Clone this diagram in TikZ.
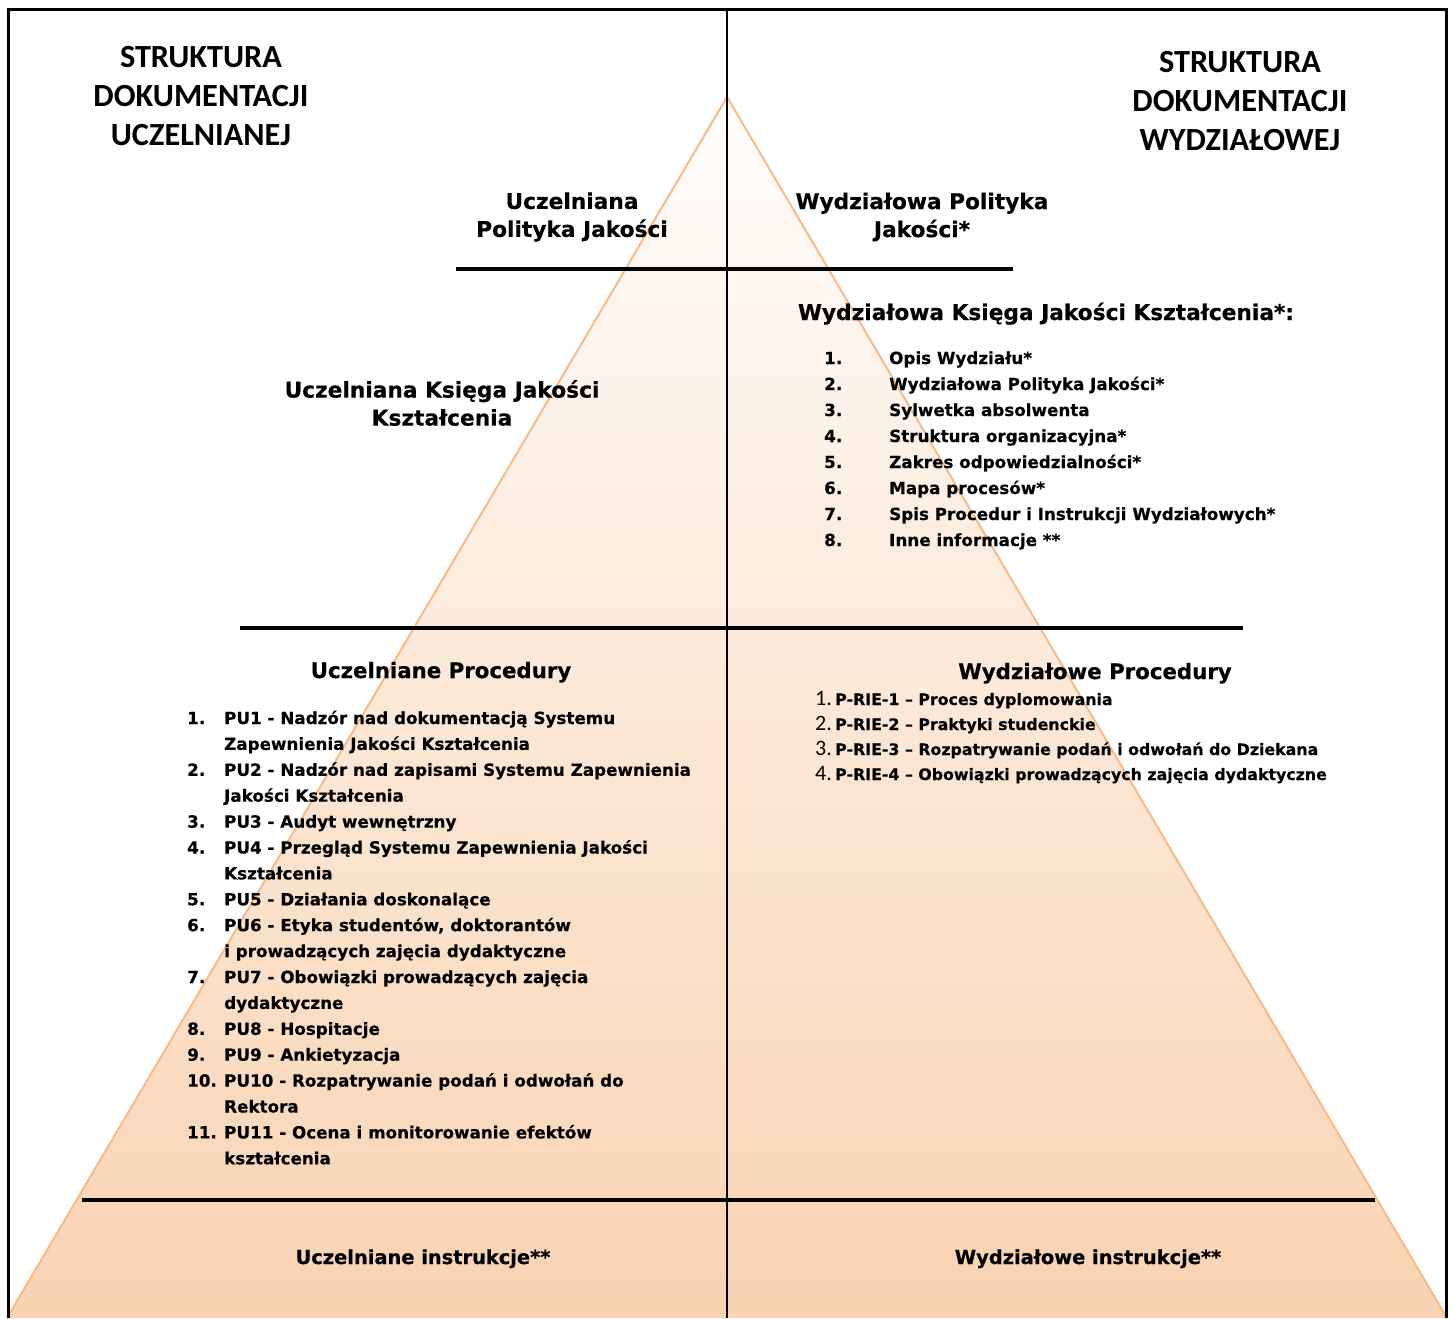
\documentclass[tikz,border=0pt]{standalone}
\usepackage{fontspec}
\setmainfont{DejaVu Sans}[BoldFeatures={FakeBold=0.4}]
\newfontfamily\hfont{Carlito}
\definecolor{peach}{RGB}{249,211,178}
\definecolor{peachtop}{RGB}{255,253,251}
\definecolor{edgeor}{RGB}{248,186,134}
\tikzset{
  head/.style={font=\hfont\bfseries\fontsize{32.3}{39}\selectfont, align=center, inner sep=0pt},
  title/.style={font=\bfseries\fontsize{21.7}{28}\selectfont, align=center, inner sep=0pt},
  item/.style={font=\bfseries\fontsize{16.75}{20}\selectfont, anchor=base west, inner sep=0pt},
  ritem/.style={font=\bfseries\fontsize{15.8}{20}\selectfont, anchor=base west, inner sep=0pt},
  rnum/.style={font=\hfont\fontsize{22}{24}\selectfont, anchor=base west, inner sep=0pt},
  sep/.style={line width=4pt, black},
}
\begin{document}
\begin{tikzpicture}[x=1pt,y=-1pt]
\useasboundingbox (0,0) rectangle (1454,1318);
% pyramid
\coordinate (apex) at (727,97);
\coordinate (bl) at (7,1318);
\coordinate (br) at (1447,1318);
\shade[top color=peachtop, bottom color=peach] (apex) -- (br) -- (bl) -- cycle;
\draw[edgeor, line width=2pt] (bl) -- (apex) -- (br);
% separators
\coordinate (s1a) at (456,269); \coordinate (s1b) at (1013,269);
\coordinate (s2a) at (240,628); \coordinate (s2b) at (1243,628);
\coordinate (s3a) at (82,1200); \coordinate (s3b) at (1375,1200);
\draw[sep] (s1a) -- (s1b);
\draw[sep] (s2a) -- (s2b);
\draw[sep] (s3a) -- (s3b);
% centre line and frame
\coordinate (ctop) at (727,9); \coordinate (cbot) at (727,1318);
\draw[line width=2pt] (ctop) -- (cbot);
\coordinate (fl) at (8,1318); \coordinate (ftl) at (8,9); \coordinate (ftr) at (1446,9); \coordinate (fr) at (1446,1318);
\draw[line width=3pt] (fl) -- (ftl) -- (ftr) -- (fr);
% headings
\node[head] (hl) at (201,96) {STRUKTURA\\DOKUMENTACJI\\UCZELNIANEJ};
\node[head] (hr) at (1240,101) {STRUKTURA\\DOKUMENTACJI\\WYDZIAŁOWEJ};
% level 1
\node[title] (upj) at (572,217) {Uczelniana\\Polityka Jakości};
\node[title] (wpj) at (922,217) {Wydziałowa Polityka\\Jakości*};
% level 2
\node[title] (ukj) at (442,403) {Uczelniana Księga Jakości\\Kształcenia};
\node[title, anchor=base] (wkj) at (1046,320) {Wydziałowa Księga Jakości Kształcenia*:};
\foreach \n/\t [count=\i from 0] in {1./{Opis Wydziału*}, 2./{Wydziałowa Polityka Jakości*}, 3./{Sylwetka absolwenta}, 4./{Struktura organizacyjna*}, 5./{Zakres odpowiedzialności*}, 6./{Mapa procesów*}, 7./{Spis Procedur i Instrukcji Wydziałowych*}, 8./{Inne informacje **}}{
  \node[item] (kn\i) at (824,{364+26*\i}) {\n};
  \node[item] (kt\i) at (889,{364+26*\i}) {\t};
}
% level 3
\node[title, font=\bfseries\fontsize{21.3}{28}\selectfont, anchor=base] (up) at (441,678) {Uczelniane Procedury};
\node[title, font=\bfseries\fontsize{21.3}{28}\selectfont, anchor=base] (wp) at (1095,679) {Wydziałowe Procedury};
\foreach \t [count=\i from 0] in {{P-RIE-1 – Proces dyplomowania}, {P-RIE-2 – Praktyki studenckie}, {P-RIE-3 – Rozpatrywanie podań i odwołań do Dziekana}, {P-RIE-4 – Obowiązki prowadzących zajęcia dydaktyczne}}{
  \pgfmathtruncatemacro{\k}{\i+1}
  \node[rnum] (rn\i) at (815,{705+25*\i}) {\k.};
  \node[ritem] (rt\i) at (835,{705+25*\i}) {\t};
}
\foreach \n/\t [count=\i from 0] in {
 1./{PU1 - Nadzór nad dokumentacją Systemu},
 {}/{Zapewnienia Jakości Kształcenia},
 2./{PU2 - Nadzór nad zapisami Systemu Zapewnienia},
 {}/{Jakości Kształcenia},
 3./{PU3 - Audyt wewnętrzny},
 4./{PU4 - Przegląd Systemu Zapewnienia Jakości},
 {}/{Kształcenia},
 5./{PU5 - Działania doskonalące},
 6./{PU6 - Etyka studentów, doktorantów},
 {}/{i prowadzących zajęcia dydaktyczne},
 7./{PU7 - Obowiązki prowadzących zajęcia},
 {}/{dydaktyczne},
 8./{PU8 - Hospitacje},
 9./{PU9 - Ankietyzacja},
 10./{PU10 - Rozpatrywanie podań i odwołań do},
 {}/{Rektora},
 11./{PU11 - Ocena i monitorowanie efektów},
 {}/{kształcenia}}{
  \node[item] (ln\i) at (187,{724+25.9*\i}) {\n};
  \node[item] (lt\i) at (224,{724+25.9*\i}) {\t};
}
% level 4
\node[title, font=\bfseries\fontsize{19.4}{24}\selectfont, anchor=base] (ui) at (423,1264) {Uczelniane instrukcje**};
\node[title, font=\bfseries\fontsize{19.4}{24}\selectfont, anchor=base] (wi) at (1088,1264) {Wydziałowe instrukcje**};
\end{tikzpicture}
\end{document}
